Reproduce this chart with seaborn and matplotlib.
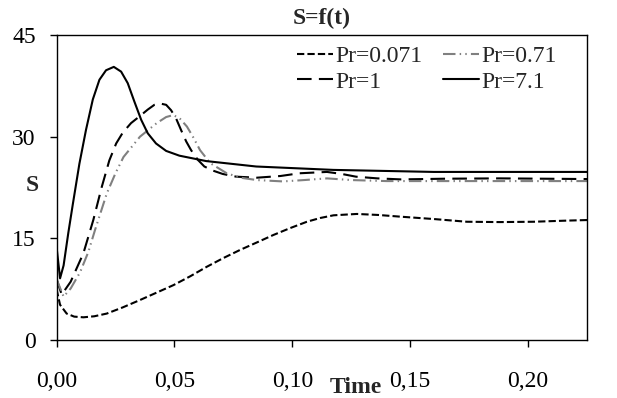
import numpy as np
import pandas as pd
import matplotlib
matplotlib.use("Agg")
import matplotlib.pyplot as plt
import seaborn as sns

# values
t_pr0071 = [0, 0.0015, 0.0043, 0.0075, 0.0114, 0.016, 0.0213, 0.028, 0.0354, 0.0425,
            0.0496, 0.0567, 0.0637, 0.0708, 0.0779, 0.085, 0.092, 0.099, 0.1062,
            0.1118, 0.1175, 0.1274, 0.1365, 0.1458, 0.16, 0.174, 0.188, 0.2024,
            0.215, 0.225]
s_pr0071 = [7.5, 5.2, 3.9, 3.45, 3.35, 3.5, 3.9, 4.8, 5.9, 7.0,
            8.1, 9.4, 10.8, 12.1, 13.3, 14.4, 15.5, 16.5, 17.45,
            18.0, 18.4, 18.6, 18.45, 18.2, 17.85, 17.45, 17.4, 17.45,
            17.6, 17.7]

t_pr071 = [0, 0.003, 0.006, 0.01, 0.0135, 0.0163, 0.0213, 0.025, 0.0284, 0.0354,
           0.0425, 0.0465, 0.0496, 0.0525, 0.0553, 0.058, 0.0609, 0.0652, 0.0722,
           0.078, 0.085, 0.096, 0.105, 0.1147, 0.125, 0.14, 0.225]
s_pr071 = [9.0, 6.4, 7.6, 10.0, 13.0, 16.2, 21.6, 24.6, 27.0, 30.0,
           32.0, 32.9, 33.2, 32.6, 31.5, 29.9, 28.0, 26.1, 24.6,
           23.95, 23.6, 23.4, 23.6, 23.85, 23.6, 23.45, 23.45]

t_pr1 = [0, 0.0022, 0.006, 0.0114, 0.0156, 0.0192, 0.0224, 0.0253, 0.0281, 0.0316,
         0.0352, 0.0387, 0.0415, 0.0439, 0.0465, 0.0486, 0.0507, 0.0528, 0.055,
         0.0571, 0.0599, 0.0627, 0.0663, 0.0705, 0.0762, 0.085, 0.095, 0.103,
         0.1147, 0.121, 0.127, 0.136, 0.146, 0.165, 0.188, 0.225]
s_pr1 = [9.0, 6.7, 8.6, 12.8, 17.7, 22.6, 26.5, 29.0, 30.6, 32.0,
         33.0, 34.0, 34.7, 34.9, 34.7, 33.9, 32.7, 31.0, 29.3,
         28.0, 26.6, 25.6, 25.0, 24.5, 24.1, 23.95, 24.2, 24.6,
         24.8, 24.5, 24.1, 23.85, 23.7, 23.8, 23.85, 23.75]

t_pr71 = [0, 0.0015, 0.003, 0.005, 0.0069, 0.0097, 0.0125, 0.0154, 0.0182, 0.021,
          0.0243, 0.0274, 0.0302, 0.033, 0.0359, 0.0387, 0.0422, 0.0465, 0.0521,
          0.0635, 0.0847, 0.1174, 0.16, 0.225]
s_pr71 = [13.8, 9.1, 11.0, 15.8, 20.0, 26.0, 31.0, 35.5, 38.4, 39.8,
          40.3, 39.6, 37.9, 35.2, 32.5, 30.5, 29.0, 27.9, 27.2,
          26.4, 25.6, 25.1, 24.8, 24.8]

x_ticks = [0, 0.05, 0.10, 0.15, 0.20]
x_labels = ["0,00", "0,05", "0,10", "0,15", "0,20"]
y_ticks = [0, 15, 30, 45]

sns.set_theme(style="white")
plt.rcParams["font.family"] = ["Liberation Serif", "DejaVu Serif"]
fs = 17

fig = plt.figure(figsize=(6.17, 3.98), dpi=100)
ax = fig.add_axes([0.0916, 0.1457, 0.8598, 0.7663])

# order so that the 2-column legend reads like the reference
series = [
    (t_pr0071, s_pr0071, "Pr=0.071", "black", (0, (3.5, 1.5))),
    (t_pr1, s_pr1, "Pr=1", "black", (0, (7, 3.5))),
    (t_pr071, s_pr071, "Pr=0.71", "#808080", (0, (6, 2, 0.7, 2, 0.7, 2))),
    (t_pr71, s_pr71, "Pr=7.1", "black", "-"),
]
for t, s, lab, col, ls in series:
    df = pd.DataFrame({"t": t, "S": s})
    sns.lineplot(data=df, x="t", y="S", ax=ax, color=col, label=lab,
                 linestyle=ls, linewidth=1.5)

ax.set_xlim(0, 0.225)
ax.set_ylim(0, 45)
ax.set_xticks(x_ticks)
ax.set_xticklabels(x_labels)
ax.set_yticks(y_ticks)
ax.tick_params(axis="both", direction="out", length=5, width=1, color="black",
               labelsize=fs, labelcolor="black")
ax.tick_params(axis="x", pad=17, bottom=True)
ax.tick_params(axis="y", pad=10, left=True)
for sp in ax.spines.values():
    sp.set_color("black")
    sp.set_linewidth(1)

ax.set_title("S=f(t)", fontsize=fs, fontweight="bold", pad=8)
ax.set_xlabel("Time", fontsize=fs, fontweight="bold")
ax.xaxis.set_label_coords(0.565, -0.12)
ax.set_ylabel("S", fontsize=fs, fontweight="bold", rotation=0, va="center")
ax.yaxis.set_label_coords(-0.045, 0.505)

ax.legend(loc="upper left", bbox_to_anchor=(0.453, 0.965), ncol=2, frameon=False,
          fontsize=fs, handlelength=1.52, handletextpad=0.12, columnspacing=0.85,
          labelspacing=0.16, borderpad=0, borderaxespad=0)

fig.savefig("out.png", dpi=100)
